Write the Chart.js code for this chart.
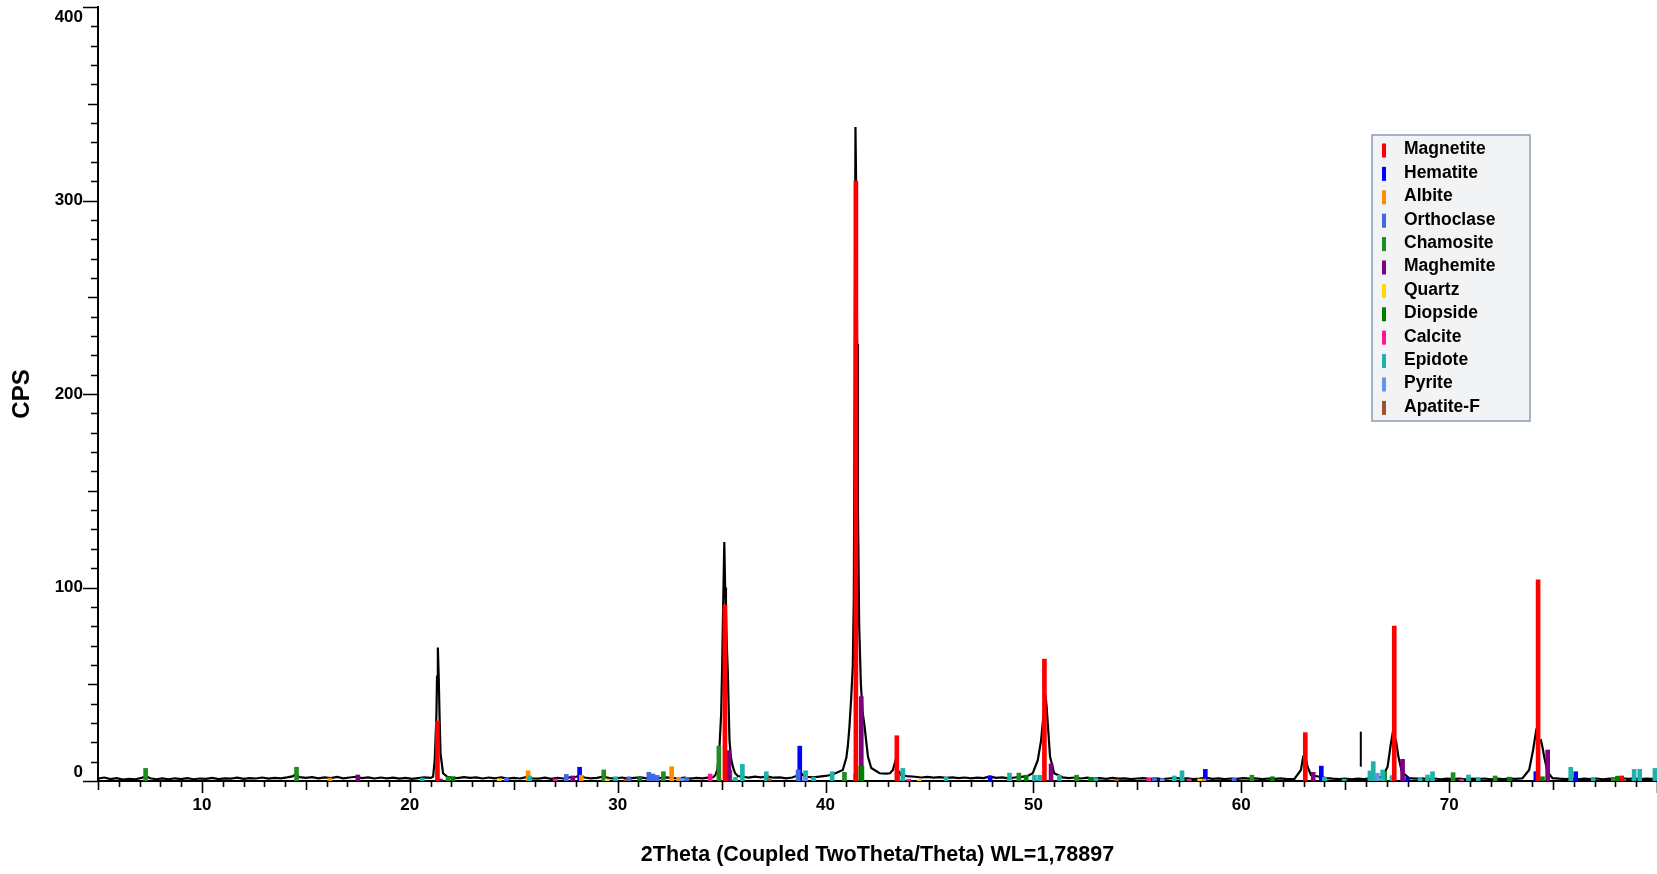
<!DOCTYPE html>
<html>
<head>
<meta charset="utf-8">
<script src="https://cdn.jsdelivr.net/npm/chart.js@4.4.1/dist/chart.umd.min.js"></script>
<style>
  html, body { margin: 0; padding: 0; background: #fff; }
  #wrap { width: 1657px; height: 874px; position: relative; }
</style>
</head>
<body>
<div id="wrap"><canvas id="myChart"></canvas></div>
<script>
// measured scan (2theta, CPS)
const scanPoints = [
  [5.0,1.2],[5.3,1.8],[5.6,1.0],[5.9,1.5],[6.2,0.7],[6.5,1.1],[6.8,0.9],[7.1,1.6],[7.3,2.6],[7.5,1.4],
  [7.8,0.9],[8.1,1.3],[8.4,0.8],[8.7,1.4],[9.0,1.0],[9.3,1.5],[9.6,0.9],[9.9,1.3],[10.2,1.1],[10.5,1.6],
  [10.8,1.0],[11.1,1.4],[11.4,1.2],[11.7,1.7],[12.0,1.1],[12.3,1.5],[12.6,1.3],[12.9,1.8],[13.2,1.2],[13.5,1.6],
  [13.8,1.4],[14.1,1.9],[14.35,2.4],[14.5,3.3],[14.7,2.0],[15.0,1.6],[15.3,2.0],[15.6,1.4],[15.9,1.9],[16.2,1.5],
  [16.5,2.1],[16.8,1.4],[17.1,1.8],[17.4,2.2],[17.7,1.5],[18.0,1.9],[18.3,1.3],[18.6,1.8],[18.9,1.4],[19.2,1.7],
  [19.5,1.2],[19.8,1.6],[20.1,1.1],[20.4,1.5],[20.7,1.9],[21.0,1.6],[21.12,2.2],[21.2,10.8],[21.28,34],[21.31,54],
  [21.35,69],[21.39,54],[21.44,30],[21.48,14],[21.6,4],[21.8,2.2],[22.0,1.8],[22.3,1.5],[22.6,2.0],[22.9,1.6],
  [23.2,1.9],[23.5,1.3],[23.8,1.8],[24.1,1.4],[24.4,1.9],[24.7,1.2],[25.0,1.6],[25.3,1.3],[25.6,2.0],[25.9,1.4],
  [26.2,1.2],[26.5,1.7],[26.8,1.1],[27.1,1.6],[27.4,1.3],[27.7,1.9],[28.0,2.2],[28.2,2.8],[28.4,1.8],[28.7,1.4],
  [29.0,1.6],[29.3,2.2],[29.6,1.5],[29.9,1.3],[30.2,1.8],[30.5,1.2],[30.8,1.6],[31.1,1.9],[31.4,1.4],[31.7,2.0],
  [32.0,1.5],[32.3,1.9],[32.6,1.6],[32.9,1.3],[33.2,1.7],[33.5,1.2],[33.8,1.6],[34.1,1.4],[34.4,1.9],[34.6,2.0],
  [34.7,3],[34.8,6],[34.9,17.7],[34.98,35],[35.03,61],[35.08,94],[35.13,123.5],[35.17,100],[35.21,88],[35.25,70],
  [35.3,56],[35.34,38],[35.38,21],[35.45,12],[35.54,7.4],[35.65,4],[35.78,2.6],[36.0,2.2],[36.3,1.8],[36.6,2.3],
  [36.9,1.9],[37.2,2.4],[37.5,1.7],[37.8,1.9],[38.1,1.4],[38.4,1.8],[38.6,2.6],[38.75,5.7],[38.9,3.0],[39.1,2.2],
  [39.4,1.9],[39.7,2.3],[40.0,2.6],[40.3,3.2],[40.5,4.1],[40.83,5.7],[41.0,12],[41.07,17.7],[41.15,28],[41.23,42],
  [41.31,59],[41.36,94],[41.4,200],[41.44,338],[41.48,300],[41.52,226],[41.56,140],[41.62,80],[41.7,50],[41.78,36],
  [41.88,28],[42.04,12.6],[42.2,6.7],[42.6,4],[42.9,3.8],[43.1,4],[43.24,5.7],[43.37,10.8],[43.44,9],[43.48,5.7],
  [43.64,3],[43.9,2.5],[44.3,2.2],[44.6,1.8],[44.9,2.1],[45.2,1.7],[45.5,2.0],[45.8,1.6],[46.1,1.9],[46.4,1.5],
  [46.7,1.8],[47.0,1.4],[47.3,1.7],[47.6,1.5],[47.9,2.4],[48.2,1.6],[48.5,1.9],[48.8,1.4],[49.1,1.8],[49.4,2.1],
  [49.7,2.5],[49.97,4],[50.21,10.8],[50.37,21],[50.45,30],[50.58,44.5],[50.64,38],[50.69,30],[50.8,12.6],[51.0,4],
  [51.4,1.9],[51.7,1.5],[52.0,1.8],[52.3,1.3],[52.6,1.7],[52.9,1.2],[53.2,1.5],[53.5,1.1],[53.8,1.6],[54.1,1.2],
  [54.4,1.4],[54.7,1.0],[55.0,1.3],[55.3,1.5],[55.6,1.1],[55.9,1.4],[56.2,1.0],[56.5,1.3],[56.8,1.6],[57.1,1.2],
  [57.4,1.4],[57.7,1.0],[58.0,1.3],[58.3,1.7],[58.6,1.1],[58.9,1.4],[59.2,1.0],[59.5,1.3],[59.8,1.1],[60.1,1.5],
  [60.4,1.2],[60.7,1.4],[61.0,1.0],[61.3,1.3],[61.6,1.1],[61.9,1.4],[62.2,1.0],[62.55,1.0],[62.87,5.7],[62.98,12.6],
  [63.05,13.4],[63.12,11],[63.19,7.4],[63.35,3.1],[63.75,2.2],[64.1,1.5],[64.4,1.2],[64.7,1.0],[65.0,1.3],[65.3,0.9],
  [65.6,1.2],[65.9,1.0],[66.2,1.4],[66.5,1.6],[66.8,2.2],[67.04,7.4],[67.2,19.5],[67.31,26.4],[67.38,22],[67.44,21],
  [67.56,12.6],[67.72,4.8],[68.07,1.5],[68.4,1.2],[68.7,1.4],[69.0,1.0],[69.3,1.3],[69.6,0.9],[69.9,1.2],[70.2,1.0],
  [70.5,1.3],[70.8,0.9],[71.1,1.2],[71.4,1.0],[71.7,1.3],[72.0,0.9],[72.3,1.2],[72.6,1.0],[72.9,1.3],[73.2,1.1],
  [73.53,1.4],[73.85,5.7],[74.04,16],[74.17,25],[74.3,20],[74.42,21],[74.5,17],[74.57,12.6],[74.73,4.8],[74.97,1.5],
  [75.3,1.2],[75.6,1.0],[75.9,1.3],[76.2,0.9],[76.5,1.2],[76.8,1.0],[77.1,1.3],[77.4,0.9],[77.7,1.2],[78.0,1.0],
  [78.3,1.4],[78.6,1.1],[78.9,1.3],[79.2,1.0],[79.5,1.2],[80.0,1.0]
]

// the short black marker near 65.75
const markerLine = [[65.75,7.4],[65.75,25.5]]

// reference lines for each phase (2theta, CPS)
const magnetite = [[21.33,31],[35.16,91],[41.46,310],[43.43,23.4],[50.53,63],[63.08,25],[67.36,80],[74.28,104],[78.3,2.6]]
const hematite = [[28.17,7.1],[38.76,18],[47.92,2.5],[58.27,6],[63.85,7.7],[68.0,1.9],[74.17,4.8],[76.09,4.8]]
const albite = [[16.15,1.5],[25.69,5.3],[28.25,3],[32.6,7.4],[32.93,1.9],[58.2,1]]
const orthoclase = [[24.65,1.5],[27.53,3.4],[30.54,2.2],[31.5,4.5],[31.7,3.6],[31.9,2.9],[33.33,1.9],[38.68,5.7],[43.47,3.6],[55.82,1.9],[59.66,1.5]]
const chamosite = [[7.29,6.5],[14.55,7.1],[21.84,2.2],[29.33,5.7],[32.2,4.8],[34.87,18],[35.4,5.7],[40.91,4.5],[41.48,7.7],[49.3,4.1],[52.08,3],[60.51,3],[66.9,4.7],[70.19,4.3],[72.21,2.6],[77.9,1.9]]
const maghemite = [[17.5,3.1],[21.47,1],[27.84,2.6],[35.35,15.7],[41.72,43.6],[50.85,8.8],[63.46,4.5],[67.76,11.2],[74.74,16]]
const quartz = [[24.3,1.2],[29.5,1],[44.5,0.8],[58.0,1]]
const diopside = [[22.08,2.2],[31.06,1.9],[41.75,7.7],[49.65,3],[52.75,1.9],[61.5,2.2],[72.9,2],[74.49,2.2],[78.1,2.5]]
const calcite = [[27.0,1.1],[34.45,3.6],[44.0,0.9],[55.55,1.5],[57.5,1],[70.6,1]]
const epidote = [[20.6,1.5],[25.77,2.6],[29.9,2.2],[35.67,1.9],[36.0,8.6],[37.15,4.8],[39.04,5.3],[39.42,1.9],[40.32,4.8],[41.44,3.6],
  [43.72,6.5],[45.8,2],[48.85,4.1],[50.05,3],[50.3,3],[51.25,3],[53.0,1.5],[56.78,2.6],[57.15,5.3],[64.0,1.9],[64.95,1],
  [66.19,5.2],[66.35,10],[66.8,5.7],[67.25,2.8],[68.6,1.9],[68.96,3.1],[69.2,4.8],[70.93,3.1],[71.4,1.9],[75.85,7.1],
  [76.93,1.9],[78.9,6],[79.17,6],[79.9,6.5]]
const pyrite = [[33.1,1.5],[39.0,2],[56.2,1.2],[66.55,4]]
const apatiteF = [[30.4,1],[37.3,1.2],[54.0,1],[78.4,1]]

const phaseNames = ["Magnetite","Hematite","Albite","Orthoclase","Chamosite","Maghemite","Quartz","Diopside","Calcite","Epidote","Pyrite","Apatite-F"]
const phaseLines = [magnetite,hematite,albite,orthoclase,chamosite,maghemite,quartz,diopside,calcite,epidote,pyrite,apatiteF]
const phaseColors = ["#ff0000","#0000ff","#ff8c00","#4169e1","#228b22","#800080","#ffd700","#008000","#ff1493","#20b2aa","#6495ed","#a0522d"]

const yTickValues = [0,100,200,300,400]
const xTickLabels = [10,20,30,40,50,60,70]

Chart.defaults.font.family = "'Liberation Sans', Arial, sans-serif"
Chart.defaults.color = "#000"

const toXY = arr => arr.map(p => ({x: p[0], y: p[1]}))

// axis tick marks with several lengths, y labels kept inside the axis, boxed legend
const decorPlugin = {
  id: "decor",
  afterDraw(chart){
    const {ctx, scales:{x, y}} = chart
    ctx.save()
    ctx.strokeStyle = "#000"
    ctx.lineWidth = 1.6
    ctx.beginPath()
    for(let v = 5; v <= 80; v++){
      const px = Math.round(x.getPixelForValue(v)) + 0.5
      const len = v % 10 === 0 ? 12 : (v % 5 === 0 ? 9 : 6)
      ctx.moveTo(px, y.bottom)
      ctx.lineTo(px, y.bottom + len)
    }
    for(let v = 0; v <= 400; v += 10){
      const py = Math.round(y.getPixelForValue(v)) + 0.5
      const len = v % 100 === 0 ? 15 : (v % 50 === 0 ? 10 : 7)
      ctx.moveTo(x.left - len, py)
      ctx.lineTo(x.left, py)
    }
    ctx.stroke()

    // y tick labels
    ctx.fillStyle = "#000"
    ctx.font = "bold 17px 'Liberation Sans', Arial, sans-serif"
    ctx.textAlign = "right"
    ctx.textBaseline = "middle"
    yTickValues.forEach(v => {
      const py = Math.min(Math.max(y.getPixelForValue(v), y.top + 10), y.bottom - 9)
      ctx.fillText(String(v), x.left - 15, py)
    })

    // legend
    const bx = 1372, by = 135, bw = 158, bh = 286
    ctx.fillStyle = "#f1f3f4"
    ctx.fillRect(bx, by, bw, bh)
    ctx.strokeStyle = "#8d9db3"
    ctx.lineWidth = 1.5
    ctx.strokeRect(bx, by, bw, bh)
    ctx.font = "bold 17.5px 'Liberation Sans', Arial, sans-serif"
    ctx.textBaseline = "middle"
    ctx.textAlign = "left"
    chart.data.datasets.filter(d => d.type === "bar").forEach((d, i) => {
      const ry = 149.5 + i * 23.4
      ctx.fillStyle = d.backgroundColor
      ctx.fillRect(1382, ry - 6, 4, 14)
      ctx.fillStyle = "#000"
      ctx.fillText(d.label, 1404, ry)
    })
    ctx.restore()
  }
}

const ctx = document.getElementById("myChart")

const datasets = [
  {
    type: "line",
    label: "scan",
    data: toXY(scanPoints),
    borderColor: "#000",
    borderWidth: 2.2,
    pointRadius: 0,
    tension: 0,
    order: 50
  },
  {
    type: "line",
    label: "marker",
    data: toXY(markerLine),
    borderColor: "#000",
    borderWidth: 2,
    pointRadius: 0,
    order: 49
  }
]

phaseLines.forEach((lines, i) => {
  datasets.push({
    type: "bar",
    label: phaseNames[i],
    data: toXY(lines),
    backgroundColor: phaseColors[i],
    barThickness: 4,
    grouped: false,
    order: i === 0 ? 0 : 20 - i
  })
})

new Chart(ctx, {
  type: "line",
  data: { datasets },
  options: {
    responsive: true,
    maintainAspectRatio: false,
    animation: false,
    layout: { padding: 0 },
    plugins: {
      legend: { display: false },
      tooltip: { enabled: false }
    },
    scales: {
      x: {
        type: "linear",
        min: 5,
        max: 80,
        offset: false,
        grid: { display: false, drawTicks: false },
        border: { display: true, color: "#000", width: 2 },
        ticks: {
          stepSize: 10,
          autoSkip: false,
          maxRotation: 0,
          padding: 14,
          font: { size: 17, weight: "bold" },
          callback: v => xTickLabels.includes(v) ? String(v) : ""
        },
        title: {
          display: true,
          text: "2Theta (Coupled TwoTheta/Theta) WL=1,78897",
          font: { size: 21.5, weight: "bold" },
          padding: { top: 0, bottom: 6 }
        },
        afterFit(scale){
          scale.height = 93
          scale.paddingLeft = 0
          scale.paddingRight = 0
        }
      },
      y: {
        min: 0,
        max: 400,
        grid: { display: false, drawTicks: false },
        border: { display: true, color: "#000", width: 2 },
        afterBuildTicks(scale){
          scale.ticks = yTickValues.map(v => ({value: v}))
        },
        ticks: { display: false },
        title: {
          display: true,
          text: "CPS",
          font: { size: 24, weight: "bold" },
          padding: { top: 8, bottom: 0 }
        },
        afterFit(scale){
          scale.width = 98
          scale.paddingTop = 7
          scale.paddingBottom = 0
        }
      }
    }
  },
  plugins: [decorPlugin]
})
</script>
</body>
</html>
